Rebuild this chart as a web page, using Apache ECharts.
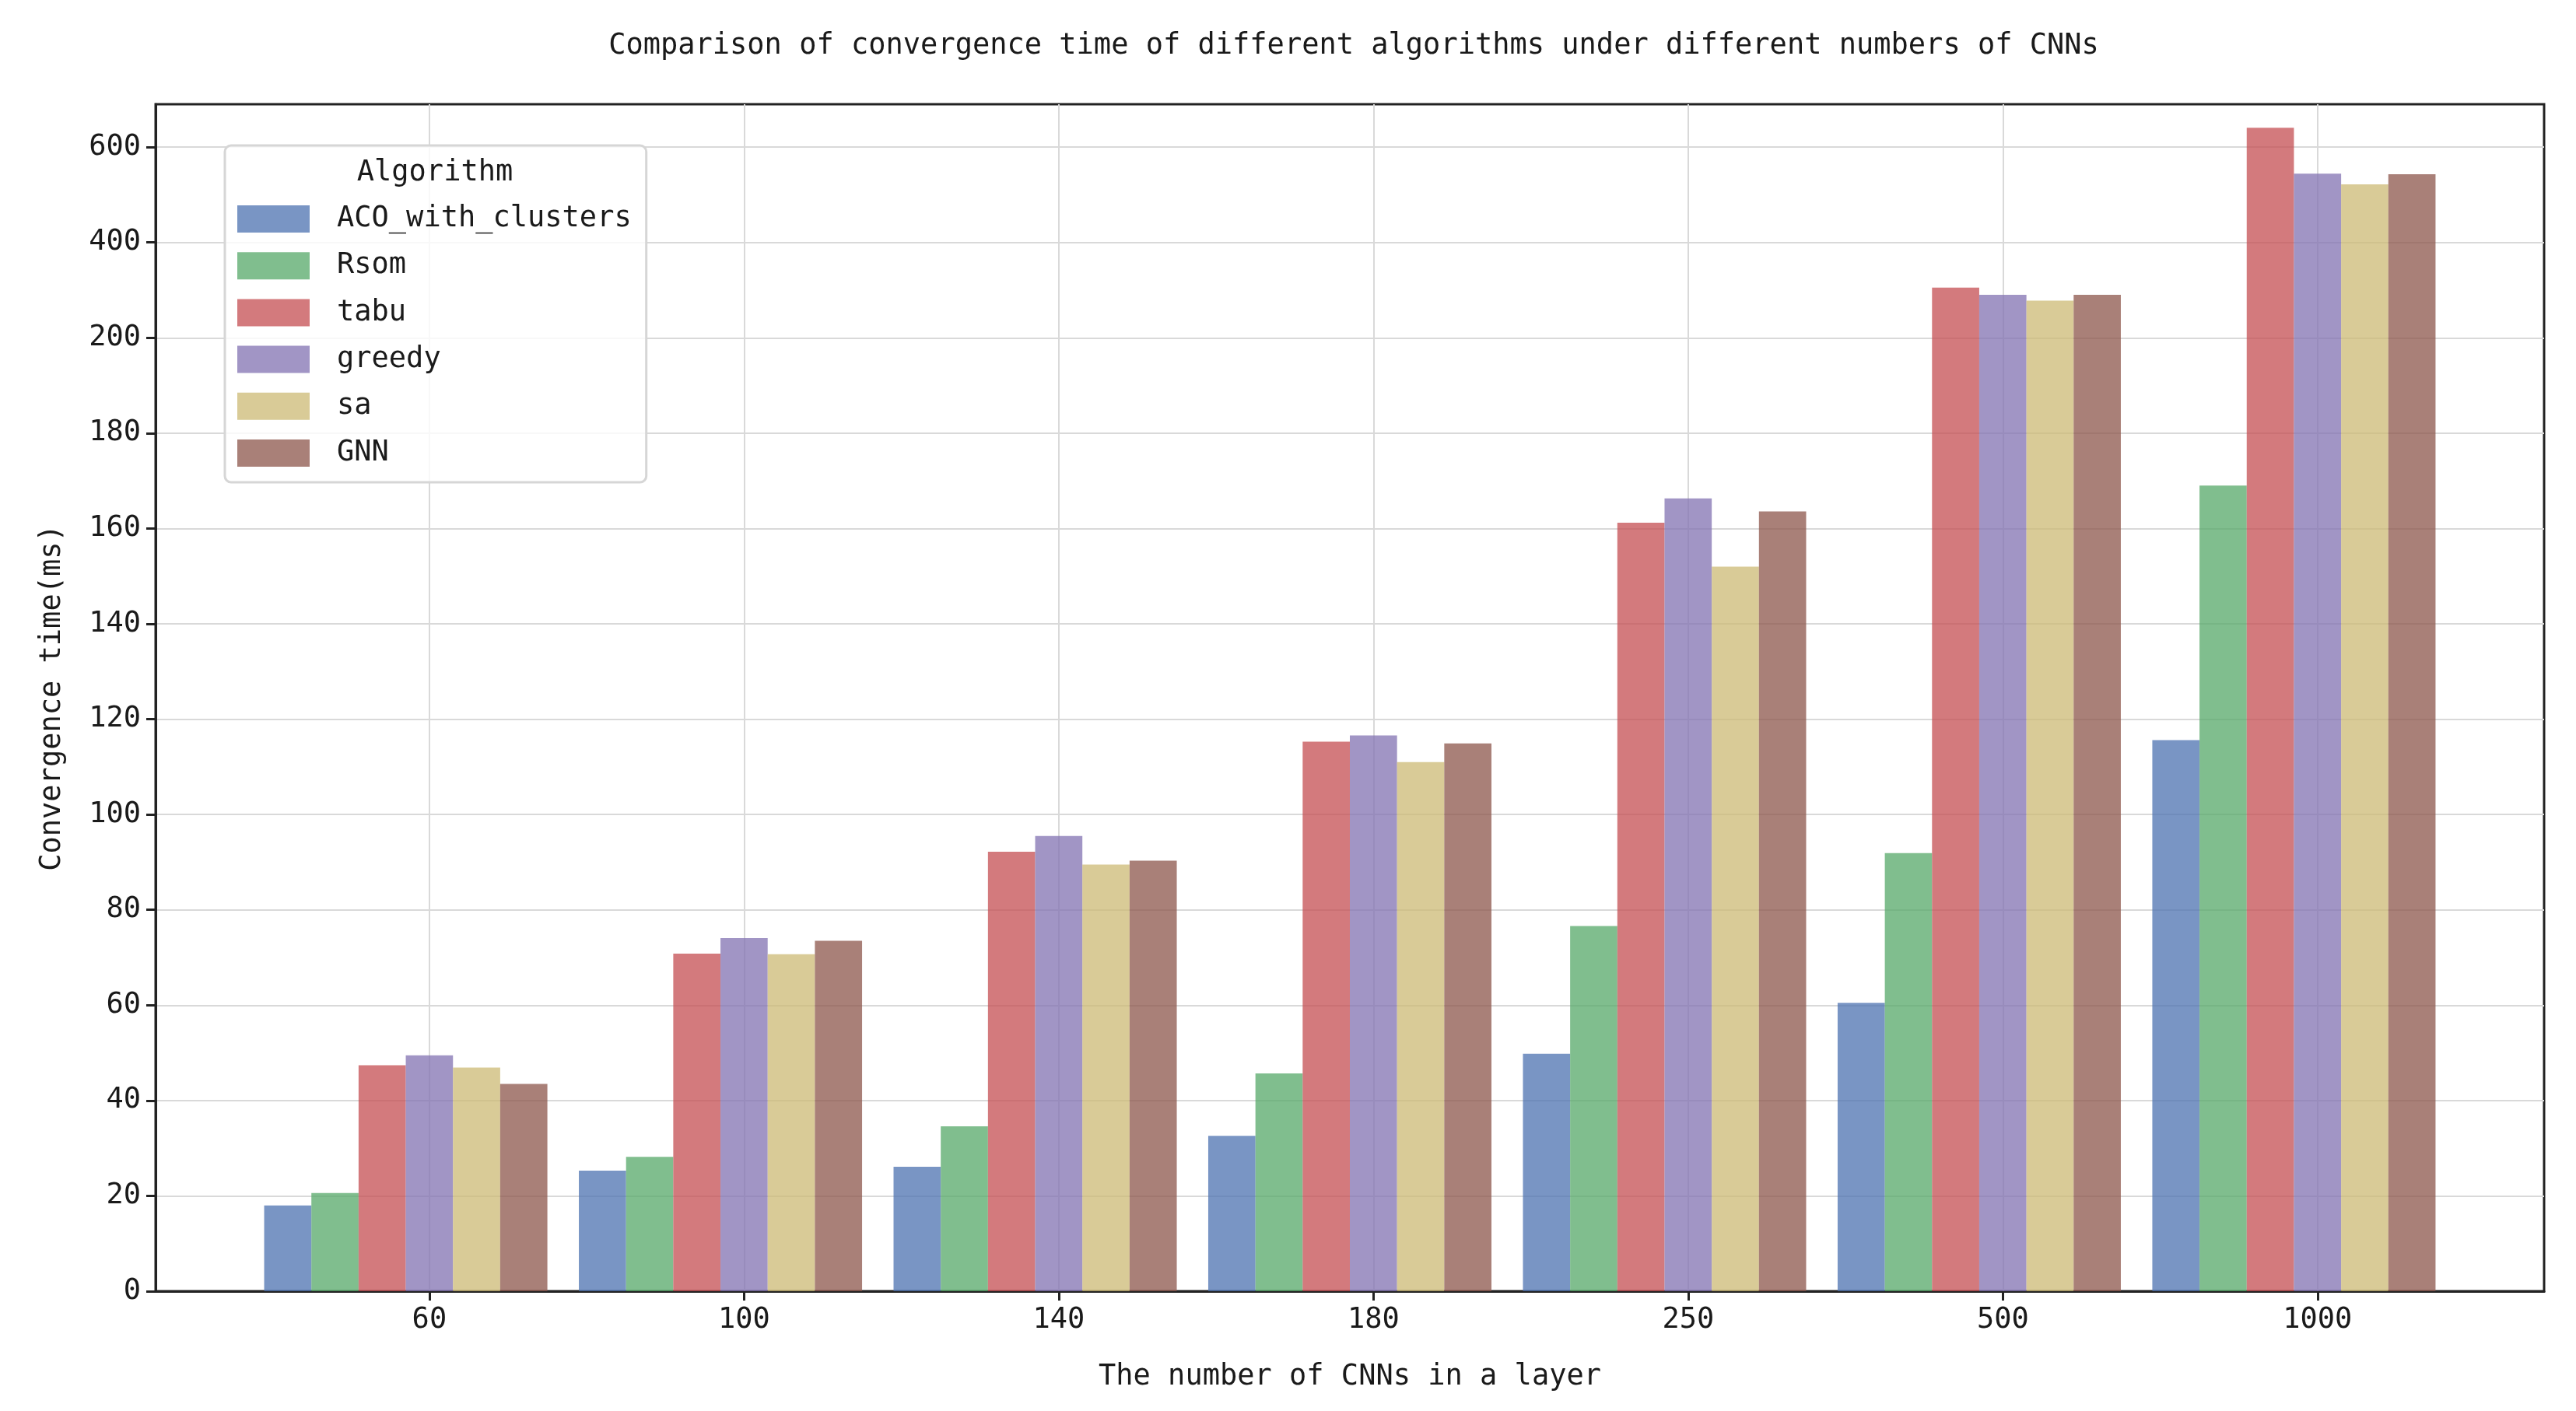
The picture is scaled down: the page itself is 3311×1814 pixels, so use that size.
<!DOCTYPE html>
<html>
<head>
<meta charset="utf-8">
<script src="https://cdn.jsdelivr.net/npm/echarts@6/dist/echarts.min.js"></script>
<style>
html,body{margin:0;padding:0;background:#fff;}
#c{width:3311px;height:1814px;}
</style>
</head>
<body>
<div id="c"></div>
<script>
// ---- data ----
const categories = ['60', '100', '140', '180', '250', '500', '1000'];
const seriesNames = ['ACO_with_clusters', 'Rsom', 'tabu', 'greedy', 'sa', 'GNN'];
const acoWithClusters = [18.0, 25.3, 26.1, 32.6, 49.8, 60.5, 115.6];
const rsom = [20.6, 28.2, 34.6, 45.7, 76.6, 91.9, 169.0];
const tabu = [47.4, 70.8, 92.2, 115.3, 161.2, 305.3, 640.6];
const greedy = [49.5, 74.1, 95.5, 116.6, 166.3, 290.3, 544.4];
const sa = [46.9, 70.7, 89.5, 111.0, 152.0, 277.8, 522.0];
const gnn = [43.5, 73.5, 90.3, 114.9, 163.6, 290.3, 543.3];
const yTickLabels = ['0', '20', '40', '60', '80', '100', '120', '140', '160', '180', '200', '400', '600'];

const seriesValues = [acoWithClusters, rsom, tabu, greedy, sa, gnn];
const colors = [
  'rgba(76,114,176,0.75)',
  'rgba(85,168,104,0.75)',
  'rgba(196,78,82,0.75)',
  'rgba(129,114,178,0.75)',
  'rgba(204,185,116,0.75)',
  'rgba(140,86,75,0.75)'
];

// piecewise axis: linear up to 200, then compressed by 10x
function toAxis(v) { return v <= 200 ? v : 200 + (v - 200) / 10; }

const FONT = 'DejaVu Sans Mono';
const FS = 37;
const TXT = '#1a1a1a';
const LINE = '#222222';
const GRIDC = '#d9d9d9';
const XMIN = -0.87, XMAX = 6.72, W = 0.15;
const xTicks = categories.map((c, i) => i);
const yTicks = yTickLabels.map((l, i) => i * 20);

const chart = echarts.init(document.getElementById('c'), null, {renderer: 'canvas'});

function build(barWidth) {
  return {
    animation: false,
    backgroundColor: '#ffffff',
    title: {
      text: 'Comparison of convergence time of different algorithms under different numbers of CNNs',
      left: 1735, top: 36, textAlign: 'center',
      textStyle: {fontFamily: FONT, fontSize: FS, fontWeight: 'normal', color: TXT}
    },
    grid: {left: 200, right: 41, top: 134, bottom: 154, show: true,
           borderColor: LINE, borderWidth: 3, backgroundColor: '#fff'},
    legend: {
      orient: 'vertical', left: 289, top: 187,
      padding: [76, 19, 19, 16],
      itemWidth: 93, itemHeight: 35, itemGap: 23.2, icon: 'rect',
      backgroundColor: 'rgba(255,255,255,0.8)', borderColor: '#d6d6d6', borderWidth: 3, borderRadius: 8,
      textStyle: {fontFamily: FONT, fontSize: FS, color: TXT, lineHeight: 35, padding: [0, 0, 0, 30]},
      data: seriesNames
    },
    graphic: [{
      type: 'text', x: 559, y: 222, z: 100,
      style: {text: 'Algorithm', font: FS + 'px "' + FONT + '"', fill: TXT, align: 'center', verticalAlign: 'middle'}
    }],
    xAxis: {
      type: 'value', min: XMIN, max: XMAX,
      axisLine: {show: true, onZero: false, lineStyle: {color: LINE, width: 3}},
      axisTick: {show: true, customValues: xTicks, length: 12, lineStyle: {color: LINE, width: 3}},
      axisLabel: {customValues: xTicks, formatter: v => categories[Math.round(v)],
                  fontFamily: FONT, fontSize: FS, color: TXT, margin: 19},
      splitLine: {show: true, lineStyle: {color: GRIDC, width: 2}},
      name: 'The number of CNNs in a layer', nameLocation: 'middle', nameGap: 92,
      nameTextStyle: {fontFamily: FONT, fontSize: FS, color: TXT}
    },
    yAxis: {
      type: 'value', min: 0, max: 249,
      axisLine: {show: true, onZero: false, lineStyle: {color: LINE, width: 3}},
      axisTick: {show: true, customValues: yTicks, length: 12, lineStyle: {color: LINE, width: 3}},
      axisLabel: {customValues: yTicks, formatter: v => yTickLabels[Math.round(v / 20)],
                  fontFamily: FONT, fontSize: FS, color: TXT, margin: 19},
      splitLine: {show: true, lineStyle: {color: GRIDC, width: 2}},
      name: 'Convergence time(ms)', nameLocation: 'middle', nameGap: 114, nameRotate: 90,
      nameTextStyle: {fontFamily: FONT, fontSize: FS, color: TXT}
    },
    series: seriesNames.map((name, i) => ({
      name: name, type: 'bar', barWidth: barWidth, barGap: '-100%',
      itemStyle: {color: colors[i]},
      emphasis: {disabled: true},
      data: seriesValues[i].map((v, j) => [j + (i - 3) * W, toAxis(v)])
    }))
  };
}

chart.setOption(build(10));
const bw = chart.convertToPixel({xAxisIndex: 0}, W) - chart.convertToPixel({xAxisIndex: 0}, 0);
chart.setOption(build(bw));
</script>
</body>
</html>
